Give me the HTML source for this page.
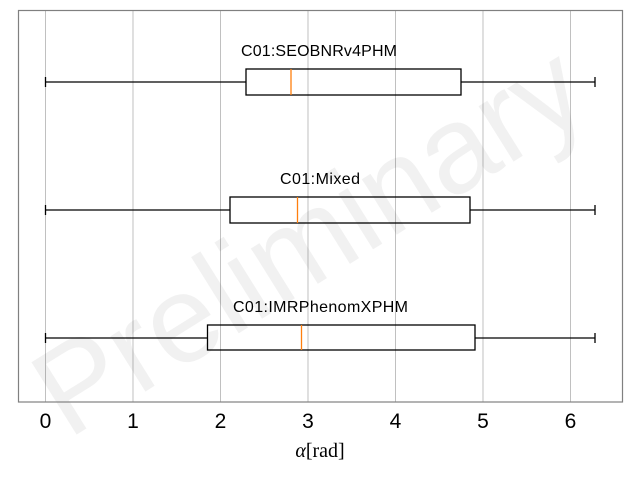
<!DOCTYPE html>
<html><head><meta charset="utf-8"><style>
body{margin:0;background:#fff}
svg{display:block}
text{font-family:"Liberation Sans",sans-serif}
</style></head><body>
<svg width="640" height="480" viewBox="0 0 640 480" xmlns="http://www.w3.org/2000/svg">
<rect width="640" height="480" fill="#fff"/>
<g stroke="#b0b0b0" stroke-width="0.8">
<line x1="45.5" y1="10" x2="45.5" y2="402"/>
<line x1="133" y1="10" x2="133" y2="402"/>
<line x1="220.5" y1="10" x2="220.5" y2="402"/>
<line x1="308" y1="10" x2="308" y2="402"/>
<line x1="395.5" y1="10" x2="395.5" y2="402"/>
<line x1="483" y1="10" x2="483" y2="402"/>
<line x1="570.5" y1="10" x2="570.5" y2="402"/>
</g>
<text x="0" y="0" transform="translate(68,440) rotate(-32)" font-size="124" fill="#000" fill-opacity="0.055">Preliminary</text>
<rect x="18.5" y="10.5" width="604" height="391.5" fill="none" stroke="#808080" stroke-width="1.2"/>
<g stroke="#000" stroke-width="1.3" fill="none">
<line x1="45.5" y1="82" x2="246" y2="82"/><line x1="461" y1="82" x2="595" y2="82"/>
<line x1="45.5" y1="77" x2="45.5" y2="87"/><line x1="595" y1="77" x2="595" y2="87"/>
<rect x="246" y="69" width="215" height="26"/>
<line x1="45.5" y1="210" x2="230" y2="210"/><line x1="470" y1="210" x2="595" y2="210"/>
<line x1="45.5" y1="205" x2="45.5" y2="215"/><line x1="595" y1="205" x2="595" y2="215"/>
<rect x="230" y="197" width="240" height="26"/>
<line x1="45.5" y1="338" x2="207.5" y2="338"/><line x1="475" y1="338" x2="595" y2="338"/>
<line x1="45.5" y1="333" x2="45.5" y2="343"/><line x1="595" y1="333" x2="595" y2="343"/>
<rect x="207.5" y="325" width="267.5" height="25"/>
</g>
<g stroke="#ff7f0e" stroke-width="1.3">
<line x1="291" y1="69" x2="291" y2="95"/>
<line x1="297.5" y1="197" x2="297.5" y2="223"/>
<line x1="301.5" y1="325" x2="301.5" y2="350"/>
</g>
<g font-size="16" fill="#000">
<text x="241" y="56" textLength="156">C01:SEOBNRv4PHM</text>
<text x="280" y="184" textLength="80">C01:Mixed</text>
<text x="233" y="312" textLength="175">C01:IMRPhenomXPHM</text>
</g>
<g font-size="21" fill="#000" text-anchor="middle">
<text x="45.5" y="428">0</text><text x="133" y="428">1</text><text x="220.5" y="428">2</text>
<text x="308" y="428">3</text><text x="395.5" y="428">4</text><text x="483" y="428">5</text><text x="570.5" y="428">6</text>
</g>
<text x="320" y="457" text-anchor="middle" font-size="20" style="font-family:'Liberation Serif',serif"><tspan font-style="italic">α</tspan>[rad]</text>
</svg>
</body></html>
